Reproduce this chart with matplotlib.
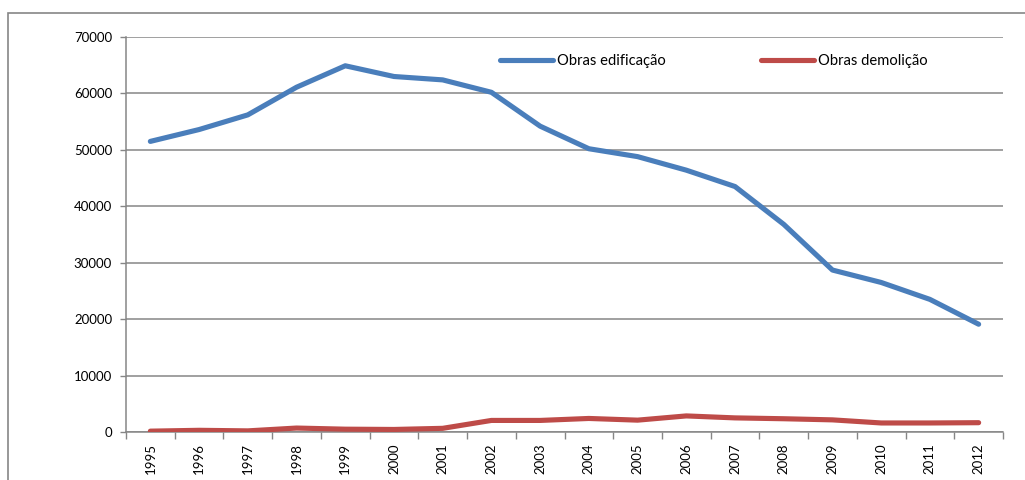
import matplotlib
matplotlib.use('Agg')
import matplotlib.pyplot as plt
import matplotlib.patches as patches
import numpy as np

plt.rcParams['font.family'] = ['Lato', 'DejaVu Sans']

anos = ['1995', '1996', '1997', '1998', '1999', '2000', '2001', '2002', '2003',
        '2004', '2005', '2006', '2007', '2008', '2009', '2010', '2011', '2012']
edificacao = [51500, 53600, 56200, 61100, 64900, 63000, 62400, 60200, 54200,
              50200, 48800, 46400, 43500, 36800, 28700, 26500, 23500, 19100]
demolicao = [150, 300, 200, 700, 500, 450, 650, 2050, 2050,
             2400, 2100, 2850, 2500, 2350, 2150, 1600, 1600, 1650]

cinza = '#868686'

fig = plt.figure(figsize=(10.25, 4.8), dpi=100)
ax = fig.add_axes([126/1025, 1 - 432/480, 877/1025, 395/480])

# moldura do grafico (cortada a direita e em baixo)
fig.patches.append(patches.Rectangle((8/1025, -0.2), 1.2, 1.2 - 13/480,
                                     transform=fig.transFigure, fill=False,
                                     edgecolor=cinza, lw=1.2))

x = np.arange(len(anos))
ax.plot(x, edificacao, color='#4A7EBB', lw=3.7, solid_capstyle='round',
        solid_joinstyle='round', label='Obras edificação', zorder=3)
ax.plot(x, demolicao, color='#BE4B48', lw=3.7, solid_capstyle='round',
        solid_joinstyle='round', label='Obras demolição', zorder=3)

ax.set_xlim(-0.5, len(anos) - 0.5)
ax.set_ylim(0, 70000)
ax.set_yticks(range(0, 70001, 10000))
ax.yaxis.grid(True, color=cinza, lw=1.1)
ax.set_axisbelow(True)

ax.set_xticks(x)
ax.set_xticklabels(anos, rotation=90, fontsize=9.5)
ax.set_xticks(np.arange(-0.5, len(anos)), minor=True)
ax.tick_params(axis='x', which='major', length=0, pad=8)
ax.tick_params(axis='x', which='minor', length=5, color=cinza, width=1)
ax.tick_params(axis='y', length=4, color=cinza, width=1, labelsize=9.5, pad=6)

for s in ['top', 'right']:
    ax.spines[s].set_visible(False)
for s in ['left', 'bottom']:
    ax.spines[s].set_color(cinza)
    ax.spines[s].set_linewidth(1.1)

ax.legend(loc='center left', bbox_to_anchor=(0.426, 0.939), ncol=2,
          frameon=False, borderaxespad=0, borderpad=0, fontsize=10.6,
          handlelength=3.6, handletextpad=0.27, columnspacing=6.5)

fig.savefig('out.png', dpi=100)
